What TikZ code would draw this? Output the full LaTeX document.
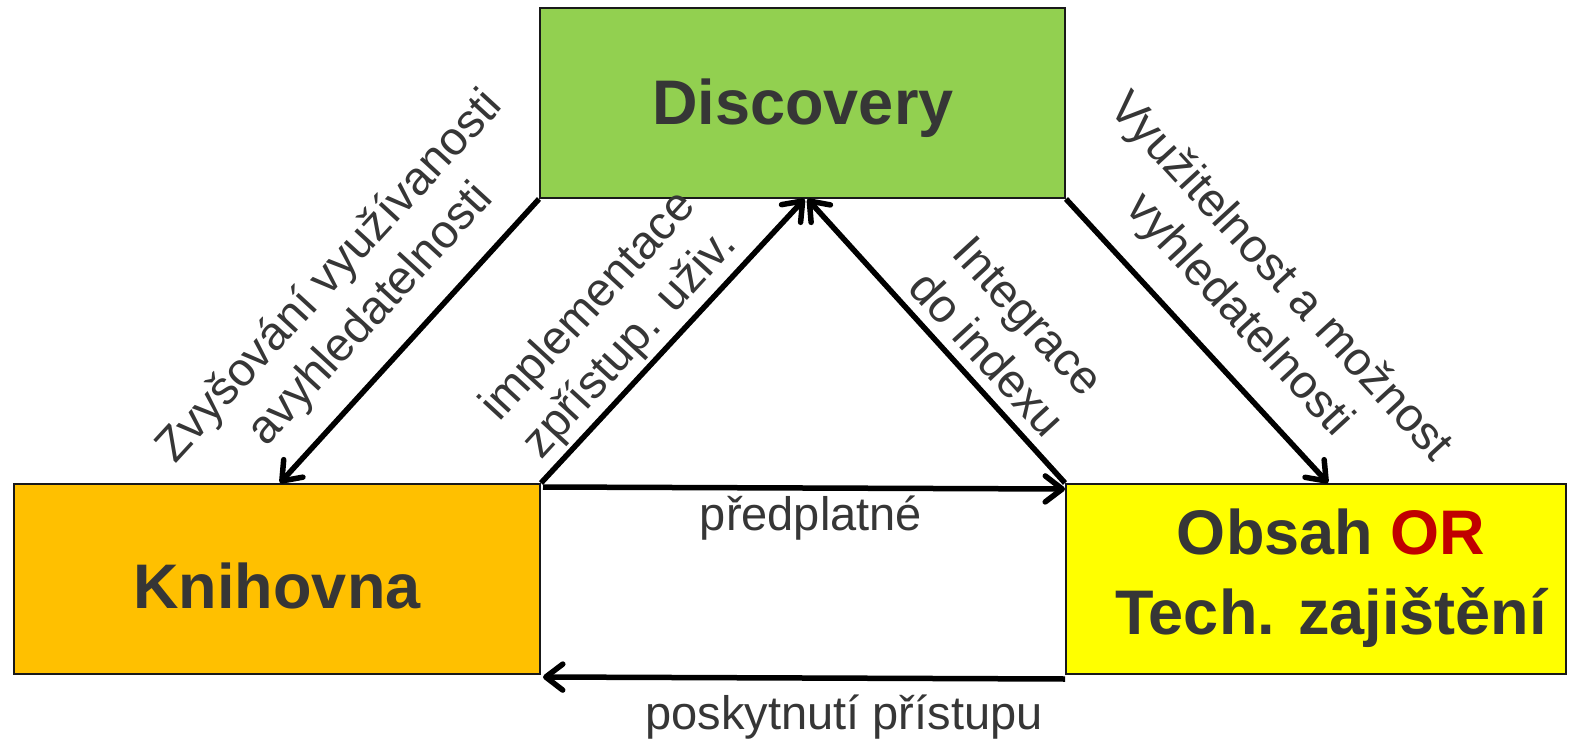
\documentclass[tikz,border=0pt]{standalone}
\usepackage{fontspec}
\setmainfont{Liberation Sans}
\usetikzlibrary{arrows.meta}
\definecolor{txt}{HTML}{363636}
\definecolor{dgreen}{HTML}{92D050}
\definecolor{dorange}{HTML}{FFC000}
\definecolor{dyellow}{HTML}{FFFF00}
\definecolor{dred}{HTML}{C00000}
\begin{document}
\begin{tikzpicture}[x=1pt,y=-1pt,
  box/.style={draw=black!90,line width=2pt,inner sep=0pt},
  title/.style={inner sep=0pt,text=txt,align=center,font=\fontsize{63}{80}\selectfont\bfseries},
  conn/.style={line width=5.5pt,-{Straight Barb[length=17pt,width=26pt,round]}},
  lbl/.style={font=\fontsize{47}{56}\selectfont,text=txt,align=center,inner sep=0pt}]
\useasboundingbox[fill=white] (0,0) rectangle (1575,744);
\node[box,fill=dgreen,minimum width=525pt,minimum height=190pt] (disc) at (802.5,103) {};
\node[box,fill=dorange,minimum width=526pt,minimum height=190pt] (kniha) at (277,579) {};
\node[box,fill=dyellow,minimum width=500pt,minimum height=190pt] (obsah) at (1316,579) {};
\node[title] (disct) at (803,108) {Discovery};
\node[title] (knihat) at (277,586) {Knihovna};
\node[title] (obsaht) at (1331,578) {Obsah \textcolor{dred}{OR}\\Tech. zajištění};
\draw[conn] (disc.south west) -- ([xshift=3pt]kniha.north);
\draw[conn] (disc.south east) -- ([xshift=12pt]obsah.north);
\draw[conn] (kniha.north east) -- ([xshift=2pt]disc.south);
\draw[conn] (obsah.north west) -- ([xshift=5pt]disc.south);
\draw[conn] ([xshift=2pt,yshift=-4pt]kniha.north east) -- ([yshift=-6pt]obsah.north west);
\draw[conn] ([yshift=-4pt]obsah.south west) -- ([xshift=2pt,yshift=-2pt]kniha.south east);
\node[lbl,rotate=47.4] (l1) at (351,296) {Zvyšování využívanosti\\avyhledatelnosti};
\node[lbl,rotate=47.4] (l2) at (610,326) {implementace\\zpřístup. uživ.};
\node[lbl,rotate=-47.4] (l3) at (1008,335) {Integrace\\do indexu};
\node[lbl,rotate=-47.4] (l4) at (1259,297) {Využitelnost a možnost\\vyhledatelnosti};
\node[lbl] (l5) at (811,518) {předplatné};
\node[lbl] (l6) at (844,717) {poskytnutí přístupu};
\end{tikzpicture}
\end{document}
